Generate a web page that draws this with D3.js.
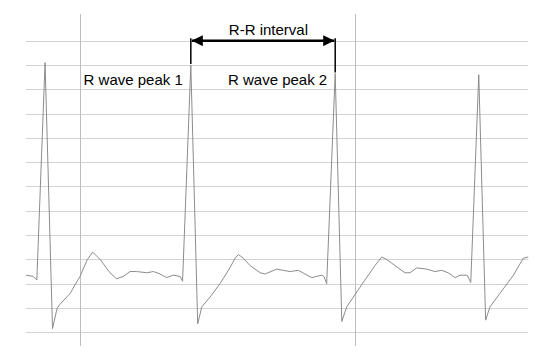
<!DOCTYPE html>
<html>
<head>
<meta charset="utf-8">
<script src="https://cdn.jsdelivr.net/npm/d3@7"></script>
<style>
  body { margin: 0; background: #fff; }
  text { font-family: "Liberation Sans", Arial, sans-serif; }
</style>
</head>
<body>
<svg id="ecg" width="550" height="355"></svg>
<script>
// ECG trace, time in ms and amplitude in mV
let timeMs = [4, 30, 43, 73, 100, 117, 127, 164, 200, 227, 246, 273, 309, 333, 357, 382, 406, 443, 467, 491, 515, 539, 564, 573,
    603, 628, 643, 673, 709, 745, 764, 776, 794, 818, 855, 873, 915, 939, 964, 994, 1018, 1043, 1061, 1079, 1087, 1097,
    1128, 1152, 1170, 1194, 1236, 1273, 1297, 1315, 1357, 1382, 1400, 1424, 1461, 1491, 1515, 1539, 1564, 1582, 1608, 1621,
    1650, 1675, 1691, 1727, 1776, 1812, 1830];
let voltMv = [0.07, 0.06, 0.03, 1.82, -0.37, -0.20, -0.17, -0.08, 0.06, 0.20, 0.26, 0.20, 0.09, 0.04, 0.06, 0.10, 0.10, 0.09, 0.10, 0.08, 0.05, 0.07, 0.06, 0.02,
    1.80, -0.33, -0.19, -0.11, 0.00, 0.13, 0.21, 0.24, 0.21, 0.15, 0.09, 0.08, 0.12, 0.11, 0.10, 0.11, 0.08, 0.05, 0.06, 0.07, 0.06, 0.00,
    1.73, -0.31, -0.19, -0.11, 0.03, 0.15, 0.22, 0.20, 0.13, 0.09, 0.09, 0.13, 0.12, 0.10, 0.11, 0.09, 0.05, 0.07, 0.07, 0.01,
    1.72, -0.30, -0.19, -0.08, 0.07, 0.21, 0.22];

// grid lines
let gridMv = [2.0, 1.8, 1.6, 1.4, 1.2, 1.0, 0.8, 0.6, 0.4, 0.2, 0.0, -0.2, -0.4];
let gridMs = [200, 1200];

// the two marked R peaks (index into the trace)
let peakIdx = [24, 46];
let peakLabels = ["R wave peak 1", "R wave peak 2"];
let intervalLabel = "R-R interval";

let svg = d3.select("#ecg");

let x = d3.scaleLinear().domain([0, 1830]).range([25, 528.25]),
    y = d3.scaleLinear().domain([-0.4, 2.0]).range([332.3, 40.7]);

let data = timeMs.map(function(t, i) { return {t: t, v: voltMv[i]}; });

// horizontal grid
svg.append("g").selectAll("line")
    .data(gridMv)
    .enter().append("line")
    .attr("x1", x(4))
    .attr("x2", x(1830))
    .attr("y1", function(d) { return Math.round(y(d)) + 0.5; })
    .attr("y2", function(d) { return Math.round(y(d)) + 0.5; })
    .attr("stroke", "#d2d2d2")
    .attr("stroke-width", 1);

// vertical grid
svg.append("g").selectAll("line")
    .data(gridMs)
    .enter().append("line")
    .attr("x1", function(d) { return Math.round(x(d)) + 0.5; })
    .attr("x2", function(d) { return Math.round(x(d)) + 0.5; })
    .attr("y1", 14)
    .attr("y2", 346)
    .attr("stroke", "#bdbdbd")
    .attr("stroke-width", 1);

// trace
let line = d3.line()
    .x(function(d) { return x(d.t); })
    .y(function(d) { return y(d.v); });

svg.append("path")
    .datum(data)
    .attr("fill", "none")
    .attr("stroke", "#8c8c8c")
    .attr("stroke-width", 1)
    .attr("stroke-linejoin", "round")
    .attr("d", line);

// R-R bracket
let p1 = data[peakIdx[0]], p2 = data[peakIdx[1]];
let bx1 = x(p1.t), bx2 = x(p2.t), by = y(2.0);

svg.append("defs").append("marker")
    .attr("id", "arr")
    .attr("viewBox", "0 0 10 10")
    .attr("refX", 10)
    .attr("refY", 5)
    .attr("markerUnits", "userSpaceOnUse")
    .attr("markerWidth", 11)
    .attr("markerHeight", 11)
    .attr("orient", "auto-start-reverse")
    .append("path")
    .attr("d", "M0,0L10,5L0,10Z")
    .attr("fill", "#000");

svg.append("line")
    .attr("x1", bx1 + 1).attr("x2", bx2 - 1)
    .attr("y1", by).attr("y2", by)
    .attr("stroke", "#000")
    .attr("stroke-width", 2.5)
    .attr("marker-start", "url(#arr)")
    .attr("marker-end", "url(#arr)");

[p1, p2].forEach(function(p) {
    svg.append("line")
        .attr("x1", x(p.t)).attr("x2", x(p.t))
        .attr("y1", by - 2.5)
        .attr("y2", y(p.v) - 1)
        .attr("stroke", "#000")
        .attr("stroke-width", 1.5);
});

// labels
svg.append("text")
    .attr("x", bx1 + 38)
    .attr("y", 35)
    .attr("font-size", "15px")
    .attr("fill", "#000")
    .text(intervalLabel);

svg.selectAll(".plabel")
    .data([p1, p2])
    .enter().append("text")
    .attr("class", "plabel")
    .attr("x", function(d) { return x(d.t) - 8; })
    .attr("y", 85)
    .attr("text-anchor", "end")
    .attr("font-size", "15px")
    .attr("fill", "#000")
    .text(function(d, i) { return peakLabels[i]; });
</script>
</body>
</html>
